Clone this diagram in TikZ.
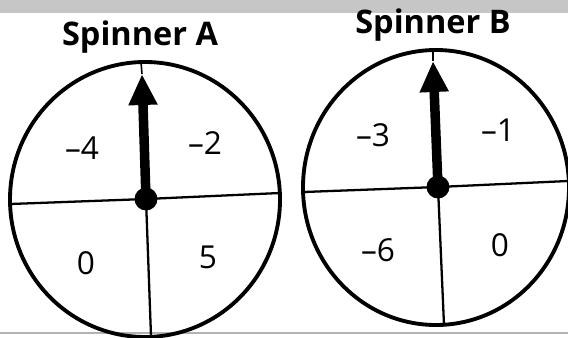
\documentclass[tikz,border=0pt]{standalone}
\usepackage{fontspec}
\setmainfont{Open Sans}
\usetikzlibrary{arrows.meta}

\begin{document}
\begin{tikzpicture}[
  x=0.02cm, y=-0.02cm,
  rim/.style={line width=2.2pt},
  divider/.style={line width=1.3pt},
  hub/.style={circle, fill=black, minimum size=0.46cm, inner sep=0pt},
  pointer/.style={line width=0.19cm, -{Triangle[width=0.54cm,length=0.62cm]}},
  needle/.style={line width=0.9pt},
  num/.style={font=\fontsize{18}{20}\selectfont, inner sep=0pt},
  title/.style={font=\fontsize{18.5}{21}\selectfont\bfseries, anchor=base, inner sep=0pt}
]
\useasboundingbox (0,0) rectangle (568,338);
% scan edges
\fill[gray!45] (0,0) rectangle (568,13);
\draw[gray!60, line width=0.8pt] (0,333) -- (568,333);

% Spinner A
\node[title] (titleA) at (140,45) {Spinner A};
\draw[rim] (145,199.5) ellipse [x radius=135, y radius=137.5];
\node[hub] (hubA) at (146,199) {};
\coordinate (leftA)   at (10.5,204);
\coordinate (rightA)  at (280,193);
\coordinate (bottomA) at (151,336);
\coordinate (tipA)    at (142,74);
\coordinate (topA)    at (141,62);
\draw[divider] (leftA) -- (hubA.center) -- (rightA);
\draw[divider] (hubA.center) -- (bottomA);
\draw[pointer] (hubA.center) -- (tipA);
\draw[needle] (tipA) -- (topA);
\node[num] (a1) at (82,148)  {–4};
\node[num] (a2) at (205,143) {–2};
\node[num] (a3) at (86,263)  {0};
\node[num] (a4) at (208,257) {5};

% Spinner B
\node[title] (titleB) at (433,33) {Spinner B};
\draw[rim] (436,187.5) ellipse [x radius=133, y radius=137.5];
\node[hub] (hubB) at (438,187) {};
\coordinate (leftB)   at (304,192);
\coordinate (rightB)  at (568,181);
\coordinate (bottomB) at (444,325);
\coordinate (tipB)    at (433,61);
\coordinate (topB)    at (433,50);
\draw[divider] (leftB) -- (hubB.center) -- (rightB);
\draw[divider] (hubB.center) -- (bottomB);
\draw[pointer] (hubB.center) -- (tipB);
\draw[needle] (tipB) -- (topB);
\node[num] (b1) at (373,135) {–3};
\node[num] (b2) at (498,130) {–1};
\node[num] (b3) at (378,250) {–6};
\node[num] (b4) at (500,245) {0};
\end{tikzpicture}
\end{document}
